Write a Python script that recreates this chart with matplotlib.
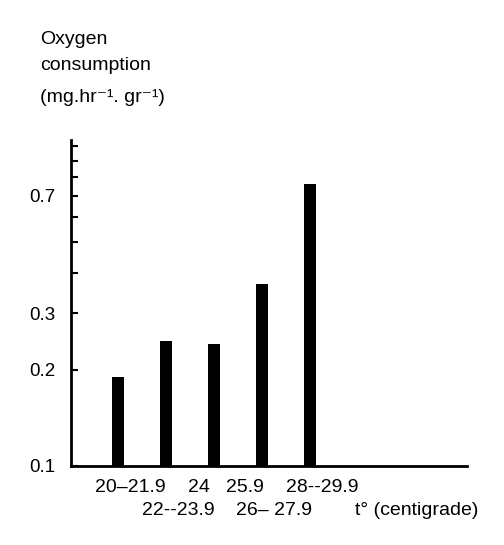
import numpy as np
import matplotlib.pyplot as plt
from matplotlib.ticker import FixedLocator, NullFormatter, FixedFormatter

plt.rcParams['font.family'] = ['Liberation Sans', 'DejaVu Sans']

# Data
categories = ["20\u201321.9", "22--23.9", "24   25.9", "26\u2013 27.9", "28--29.9"]
oxygen = [0.19, 0.245, 0.24, 0.37, 0.76]
ytick_major = [0.1, 0.2, 0.3, 0.7]
ytick_minor = [0.4, 0.5, 0.6, 0.8, 0.9, 1.0]

fig = plt.figure(figsize=(5.04, 5.45), dpi=100)
ax = fig.add_axes([0.1409, 0.145, 0.7857, 0.598])

x = np.arange(len(categories))
base = 0.1
ax.bar(x, np.array(oxygen) - base, bottom=base, width=0.25, color='black')

ax.set_yscale('log')
ax.set_ylim(0.1, 1.044)
ax.set_xlim(-0.98, 7.27)

# axes: only left and bottom lines
for s in ['top', 'right']:
    ax.spines[s].set_visible(False)
for s in ['left', 'bottom']:
    ax.spines[s].set_linewidth(2)

ax.yaxis.set_major_locator(FixedLocator(ytick_major))
ax.yaxis.set_major_formatter(FixedFormatter([str(v) for v in ytick_major]))
ax.yaxis.set_minor_locator(FixedLocator(ytick_minor))
ax.yaxis.set_minor_formatter(NullFormatter())
ax.tick_params(axis='y', which='both', direction='in', length=5, width=1.5, pad=11, labelsize=13.5)
ax.set_xticks([])

# staggered category labels
for i, lab in enumerate(categories):
    yrow = -0.0675 if i % 2 == 0 else -0.138
    ax.text(i + 0.25, yrow, lab, transform=ax.get_xaxis_transform(),
            ha='center', va='center', fontsize=14)
ax.text(4.94, -0.138, "t\u00b0 (centigrade)", transform=ax.get_xaxis_transform(),
        ha='left', va='center', fontsize=14)

# y axis title
fig.text(40 / 504, 1 - 40 / 545, "Oxygen", ha='left', va='center', fontsize=14)
fig.text(40 / 504, 1 - 65 / 545, "consumption", ha='left', va='center', fontsize=14)
fig.text(40 / 504, 1 - 97 / 545, "(mg.hr\u207b\u00b9. gr\u207b\u00b9)", ha='left', va='center', fontsize=14)

fig.savefig("out.png", dpi=100)
